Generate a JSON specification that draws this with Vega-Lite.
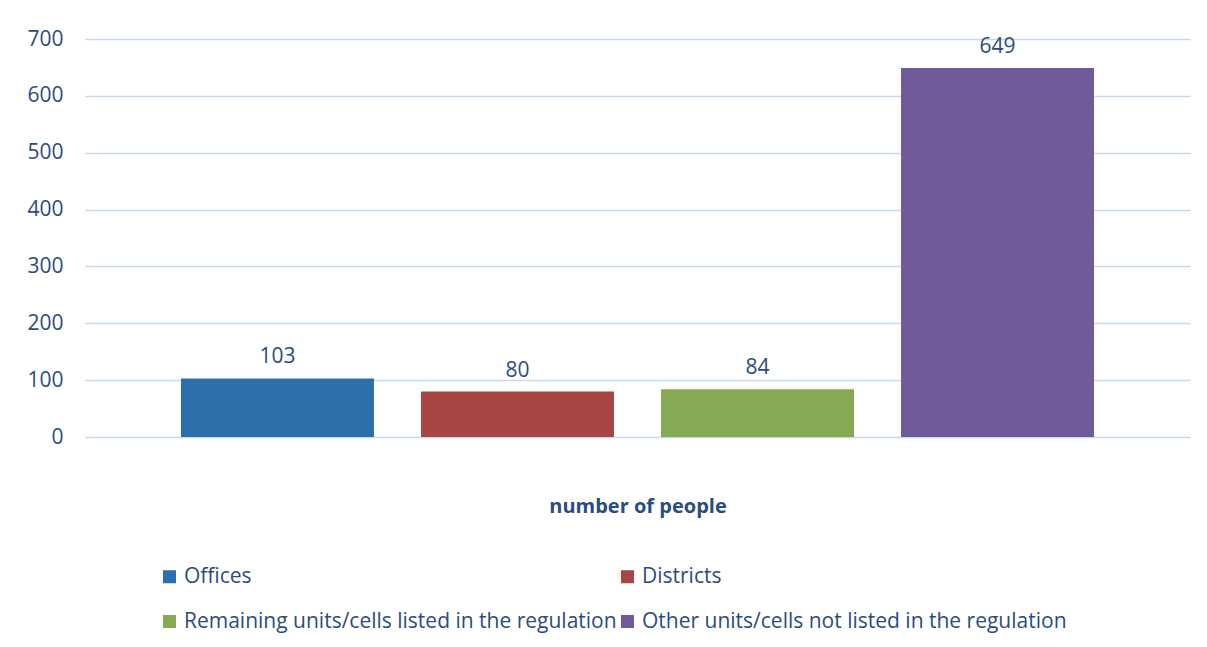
{
  "$schema": "https://vega.github.io/schema/vega-lite/v6.json",
  "width": 1105,
  "height": 398,
  "autosize": "none",
  "padding": {"left": 85, "top": 39, "right": 17, "bottom": 210},
  "background": "white",
  "config": {
    "view": {"stroke": null},
    "font": "Open Sans"
  },
  "data": {
    "values": [
      {"category": "Offices", "value": 103},
      {"category": "Districts", "value": 80},
      {"category": "Remaining units/cells listed in the regulation", "value": 84},
      {"category": "Other units/cells not listed in the regulation", "value": 649}
    ]
  },
  "encoding": {
    "x": {
      "field": "category",
      "type": "nominal",
      "sort": null,
      "scale": {"paddingInner": 0.196, "paddingOuter": 0.4},
      "axis": {
        "title": "number of people",
        "titleFont": "Open Sans",
        "titleFontSize": 20,
        "titleFontWeight": "bold",
        "titleColor": "#2b4c7e",
        "titlePadding": 59,
        "labels": false,
        "ticks": false,
        "domain": false
      }
    },
    "y": {
      "field": "value",
      "type": "quantitative",
      "scale": {"domain": [0, 700]},
      "axis": {
        "values": [0, 100, 200, 300, 400, 500, 600, 700],
        "title": null,
        "domain": false,
        "ticks": false,
        "labelFont": "Open Sans",
        "labelFontSize": 21,
        "labelColor": "#2b4c7e",
        "labelPadding": 22,
        "gridColor": "#c5d9ed",
        "gridWidth": 1.5
      }
    }
  },
  "layer": [
    {
      "mark": {"type": "bar"},
      "encoding": {
        "color": {
          "field": "category",
          "type": "nominal",
          "scale": {
            "domain": ["Offices", "Remaining units/cells listed in the regulation", "Districts", "Other units/cells not listed in the regulation"],
            "range": ["#2c6fab", "#86a954", "#a84643", "#715a9a"]
          },
          "legend": {
            "title": null,
            "orient": "none",
            "legendX": 74,
            "legendY": 527,
            "columns": 2,
            "columnPadding": -4,
            "rowPadding": 23,
            "symbolType": "square",
            "symbolSize": 170,
            "symbolStrokeWidth": 0,
            "symbolOffset": 0,
            "labelOffset": 4,
            "labelFont": "Open Sans",
            "labelFontSize": 21,
            "labelColor": "#2b4c7e",
            "labelLimit": 600
          }
        }
      }
    },
    {
      "mark": {"type": "text", "dy": -21, "font": "Open Sans", "fontSize": 21, "color": "#2b4c7e"},
      "encoding": {
        "text": {"field": "value", "type": "quantitative"}
      }
    }
  ]
}
